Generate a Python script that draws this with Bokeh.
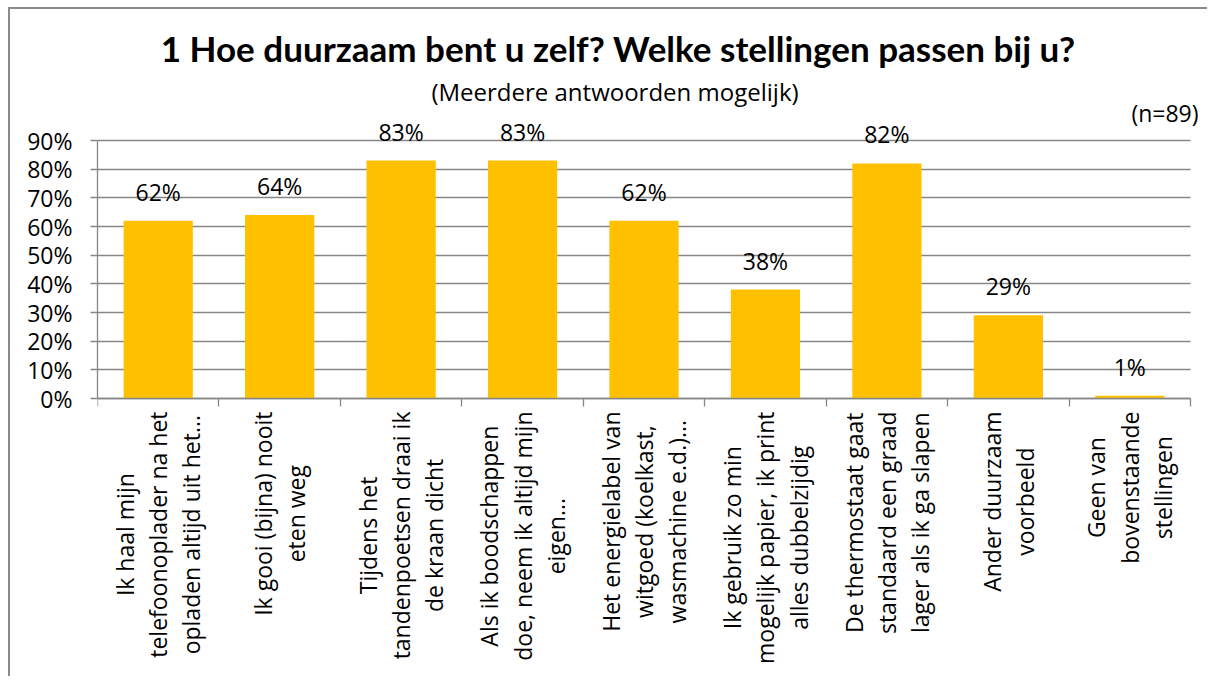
import math
from bokeh.plotting import figure
from bokeh.models import (Range1d, FixedTicker, NumeralTickFormatter, Label, LabelSet,
                          ColumnDataSource, BoxAnnotation, LinearAxis)
from bokeh.core.properties import value
from bokeh.embed import file_html
from bokeh.resources import INLINE

# ---------------- data ----------------
categories = [
    "Ik haal mijn\ntelefoonoplader na het\nopladen altijd uit het...",
    "Ik gooi (bijna) nooit\neten weg",
    "Tijdens het\ntandenpoetsen draai ik\nde kraan dicht",
    "Als ik boodschappen\ndoe, neem ik altijd mijn\neigen...",
    "Het energielabel van\nwitgoed (koelkast,\nwasmachine e.d.)...",
    "Ik gebruik zo min\nmogelijk papier, ik print\nalles dubbelzijdig",
    "De thermostaat gaat\nstandaard een graad\nlager als ik ga slapen",
    "Ander duurzaam\nvoorbeeld",
    "Geen van\nbovenstaande\nstellingen",
]
percentages = [62, 64, 83, 83, 62, 38, 82, 29, 1]
y_ticks = [0, 10, 20, 30, 40, 50, 60, 70, 80, 90]

title_text = "1 Hoe duurzaam bent u zelf? Welke stellingen passen bij u?"
subtitle_text = "(Meerdere antwoorden mogelijk)"
n_text = "(n=89)"

# ---------------- layout (pixels) ----------------
W, H = 1207, 676            # canvas
LEFT, TOP_PANEL = 97, 20    # y-axis panel width, top panel height
AX_TOP, AX_ZERO = 140, 398  # pixel rows of the 90% and 0% lines
PLOT_W = 1093               # width of the category area

n = len(categories)
ymax = y_ticks[-1] / 100
k = (AX_ZERO - AX_TOP) / ymax           # px per unit
frame_w, frame_h = W - LEFT, H - TOP_PANEL
x_end = n * frame_w / PLOT_W
y_end = (AX_ZERO - TOP_PANEL) / k
y_start = -(H - AX_ZERO) / k

xpos = [i + 0.5 for i in range(n)]
tops = [v / 100 for v in percentages]
labels = [f"{v}%" for v in percentages]
src = ColumnDataSource(dict(x=xpos, top=tops, lab=labels))

FONT = "Open Sans"
GRID = "#868686"
BAR = "#FFC000"

p = figure(
    frame_width=frame_w, frame_height=frame_h,
    min_border_left=LEFT, min_border_right=0, min_border_top=TOP_PANEL, min_border_bottom=0,
    x_range=Range1d(0, x_end), y_range=Range1d(y_start, y_end),
    x_axis_location=None, y_axis_location="left",
    output_backend="svg", toolbar_location=None,
)
p.outline_line_color = None
p.background_fill_color = "white"
p.border_fill_color = None
p.styles = {
    "background": ("linear-gradient(#8a8a8a,#8a8a8a) no-repeat 8px 7px / 2px 100%, "
                   "linear-gradient(#8a8a8a,#8a8a8a) no-repeat 8px 7px / 100% 2px, white"),
}

p.vbar(x="x", top="top", width=0.57, bottom=0, source=src, color=BAR, line_color=None)

# y axis
p.yaxis.ticker = FixedTicker(ticks=[t / 100 for t in y_ticks])
p.yaxis.bounds = (0, ymax)
p.yaxis.formatter = NumeralTickFormatter(format="0%")
p.yaxis.major_tick_out = 7
p.yaxis.major_tick_in = 0
p.yaxis.minor_tick_line_color = None
p.yaxis.major_label_standoff = 18
p.yaxis.major_label_text_font = FONT
p.yaxis.major_label_text_font_size = "23px"
p.yaxis.major_label_text_color = "black"
p.yaxis.axis_line_color = GRID
p.yaxis.axis_line_width = 1.3
p.yaxis.major_tick_line_color = GRID
p.yaxis.major_tick_line_width = 1.3

# x axis: drawn at 0%, tick marks between categories
xax = LinearAxis(ticker=FixedTicker(ticks=list(range(n + 1))), bounds=(0, n),
                 fixed_location=0,
                 major_label_overrides={i: "" for i in range(n + 1)},
                 major_label_text_font_size="8px", major_label_standoff=0,
                 major_tick_out=0, major_tick_in=8, minor_tick_line_color=None,
                 axis_line_color=GRID, axis_line_width=1.3,
                 major_tick_line_color=GRID, major_tick_line_width=1.3)
p.add_layout(xax, "above")

p.xgrid.grid_line_color = None
p.ygrid.ticker = FixedTicker(ticks=[t / 100 for t in y_ticks])
p.ygrid.grid_line_color = GRID
p.ygrid.grid_line_width = 1.3
try:
    p.ygrid.cross_bounds = (0, n)
except AttributeError:
    p.add_layout(BoxAnnotation(left=n + 0.02, right=x_end + 1, bottom=-0.05,
                               top=ymax + 0.05, fill_color="white", fill_alpha=1,
                               line_color=None))

# data labels
p.add_layout(LabelSet(x="x", y="top", text="lab", source=src, y_offset=20,
                      text_align="center", text_baseline="alphabetic",
                      text_font=value(FONT), text_font_size=value("23px"),
                      text_color="black"))

# category labels (rotated, lines centred, end of longest line near axis)
for xc, cat in zip(xpos, categories):
    p.add_layout(Label(x=xc, y=0, y_offset=-13, text=cat,
                       angle=math.pi / 2, anchor="center_right", text_align="center",
                       text_font=FONT, text_font_size="23px", text_line_height=1.04,
                       text_color="black"))

# titles
p.add_layout(Label(x=n / 2, y=0, x_offset=-26, y_offset=351, text=title_text,
                   text_align="center", text_baseline="alphabetic", text_font="Lato",
                   text_font_style="bold", text_font_size="35px", text_color="black"))
p.add_layout(Label(x=n / 2, y=0, x_offset=-29, y_offset=307, text=subtitle_text,
                   text_align="center", text_baseline="alphabetic", text_font=FONT,
                   text_font_size="24px", text_color="black"))
p.add_layout(Label(x=n, y=0, x_offset=8, y_offset=286, text=n_text,
                   text_align="right", text_baseline="alphabetic", text_font=FONT,
                   text_font_size="23px", text_color="black"))

open("out.html", "w").write(file_html(p, INLINE))
